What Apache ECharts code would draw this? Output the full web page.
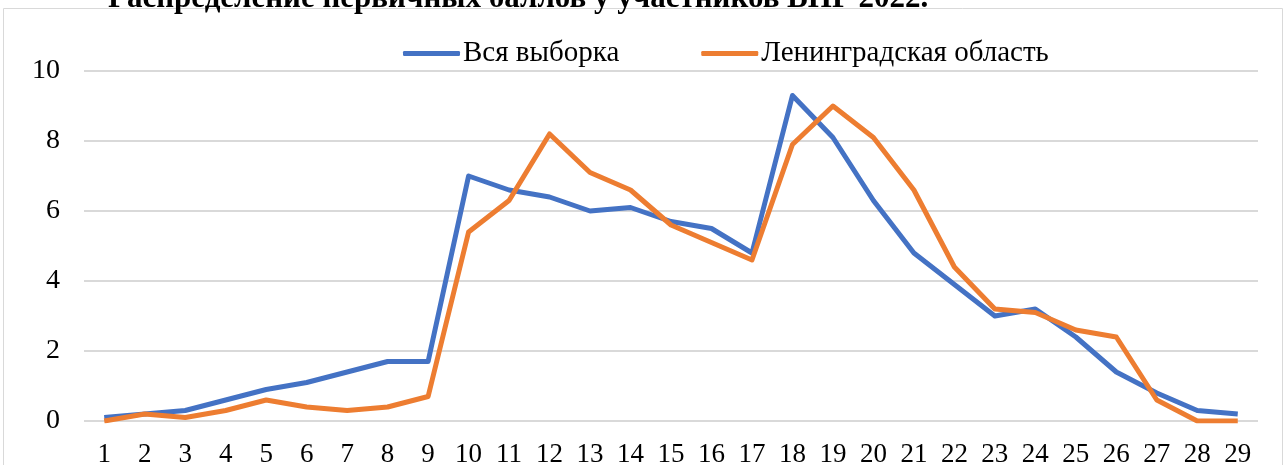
<!DOCTYPE html>
<html>
<head>
<meta charset="utf-8">
<script src="https://cdn.jsdelivr.net/npm/echarts@6/dist/echarts.min.js"></script>
<style>
  html, body { margin: 0; padding: 0; background: #fff; }
  #chart { width: 1285px; height: 465px; }
</style>
</head>
<body>
<div id="chart"></div>
<script>
  // данные
  const categories = ['1','2','3','4','5','6','7','8','9','10','11','12','13','14','15',
    '16','17','18','19','20','21','22','23','24','25','26','27','28','29'];
  const vsyaVyborka = [0.1, 0.2, 0.3, 0.6, 0.9, 1.1, 1.4, 1.7, 1.7, 7.0, 6.6, 6.4, 6.0, 6.1, 5.7,
    5.5, 4.8, 9.3, 8.1, 6.3, 4.8, 3.9, 3.0, 3.2, 2.4, 1.4, 0.8, 0.3, 0.2];
  const lenOblast = [0.0, 0.2, 0.1, 0.3, 0.6, 0.4, 0.3, 0.4, 0.7, 5.4, 6.3, 8.2, 7.1, 6.6, 5.6,
    5.1, 4.6, 7.9, 9.0, 8.1, 6.6, 4.4, 3.2, 3.1, 2.6, 2.4, 0.6, 0.0, 0.0];
  const yTicks = [0, 2, 4, 6, 8, 10];

  const font = '"Liberation Serif", "Times New Roman", serif';
  const myChart = echarts.init(document.getElementById('chart'));

  myChart.setOption({
    animation: false,
    textStyle: { fontFamily: font },
    title: {
      text: 'Распределение первичных баллов у участников ВПР 2022.',
      left: 103,
      top: -22,
      textStyle: { fontFamily: font, fontSize: 31, fontWeight: 'bold', color: '#000' }
    },
    graphic: [{
      type: 'rect',
      shape: { x: 3.5, y: 8.5, width: 1279, height: 470 },
      style: { fill: 'none', stroke: '#D9D9D9', lineWidth: 1 },
      silent: true
    }],
    legend: {
      left: 398,
      top: 34,
      itemWidth: 57,
      itemHeight: 5,
      itemGap: 82,
      icon: 'roundRect',
      textStyle: { fontFamily: font, fontSize: 29, color: '#000', padding: [0, 0, 0, -2] },
      data: ['Вся выборка', 'Ленинградская область']
    },
    grid: {
      left: 84,
      right: 27,
      top: 71,
      bottom: 44,
      containLabel: false,
      outerBoundsMode: 'none'
    },
    xAxis: {
      type: 'category',
      data: categories,
      boundaryGap: true,
      axisLine: { show: false },
      axisTick: { show: false },
      axisLabel: { fontFamily: font, fontSize: 27, color: '#000', margin: 20, interval: 0 }
    },
    yAxis: {
      type: 'value',
      min: yTicks[0],
      max: yTicks[yTicks.length - 1],
      interval: 2,
      axisLine: { show: false },
      axisTick: { show: false },
      splitLine: { lineStyle: { color: '#D9D9D9', width: 2 } },
      axisLabel: { fontFamily: font, fontSize: 28, color: '#000', margin: 24 }
    },
    series: [
      {
        name: 'Вся выборка',
        type: 'line',
        data: vsyaVyborka,
        symbol: 'none',
        itemStyle: { color: '#4472C4' },
        lineStyle: { color: '#4472C4', width: 5, join: 'round' }
      },
      {
        name: 'Ленинградская область',
        type: 'line',
        data: lenOblast,
        symbol: 'none',
        itemStyle: { color: '#ED7D31' },
        lineStyle: { color: '#ED7D31', width: 5, join: 'round' }
      }
    ]
  });
</script>
</body>
</html>
